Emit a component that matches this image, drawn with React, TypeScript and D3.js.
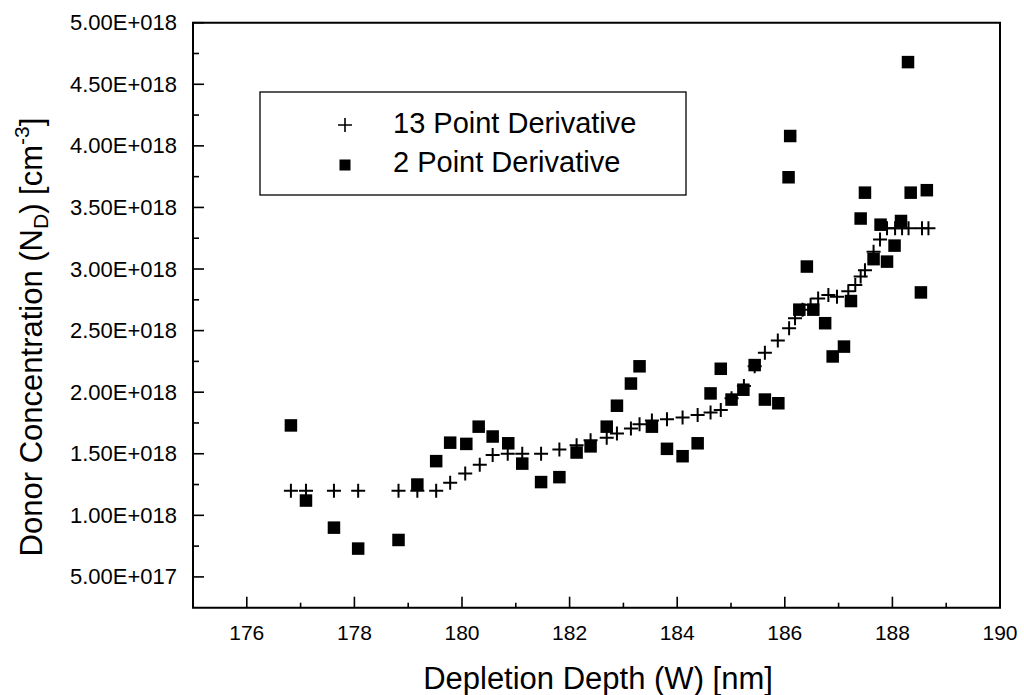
import React from "react";
import * as d3 from "d3";

const crossX = [176.82, 177.10, 177.62, 178.07, 178.82, 179.17, 179.52, 179.78, 180.06, 180.33, 180.57, 180.85, 181.12, 181.47, 181.81, 182.13, 182.39, 182.69, 182.88, 183.14, 183.30, 183.53, 183.81, 184.10, 184.38, 184.62, 184.81, 185.01, 185.24, 185.44, 185.63, 185.87, 186.08, 186.19, 186.33, 186.48, 186.62, 186.81, 186.97, 187.18, 187.31, 187.41, 187.49, 187.65, 187.77, 187.90, 188.05, 188.18, 188.30, 188.55, 188.67];
const crossY = [1.20, 1.20, 1.20, 1.20, 1.20, 1.20, 1.20, 1.265, 1.34, 1.41, 1.49, 1.50, 1.50, 1.50, 1.535, 1.57, 1.61, 1.63, 1.665, 1.705, 1.74, 1.77, 1.78, 1.795, 1.815, 1.835, 1.855, 1.95, 2.05, 2.21, 2.32, 2.42, 2.52, 2.60, 2.67, 2.71, 2.76, 2.79, 2.775, 2.82, 2.87, 2.94, 2.99, 3.14, 3.24, 3.33, 3.33, 3.33, 3.33, 3.33, 3.33];

const squareX = [176.82, 177.10, 177.62, 178.07, 178.82, 179.17, 179.52, 179.78, 180.08, 180.31, 180.57, 180.86, 181.12, 181.47, 181.81, 182.13, 182.39, 182.69, 182.88, 183.14, 183.30, 183.53, 183.81, 184.10, 184.38, 184.62, 184.81, 185.01, 185.23, 185.44, 185.63, 185.88, 186.07, 186.10, 186.27, 186.41, 186.53, 186.75, 186.89, 187.10, 187.23, 187.41, 187.49, 187.65, 187.78, 187.90, 188.04, 188.16, 188.29, 188.34, 188.53, 188.64];
const squareY = [1.73, 1.12, 0.90, 0.73, 0.80, 1.25, 1.44, 1.59, 1.58, 1.72, 1.64, 1.585, 1.42, 1.27, 1.31, 1.51, 1.56, 1.72, 1.89, 2.07, 2.21, 1.72, 1.54, 1.48, 1.585, 1.99, 2.19, 1.94, 2.02, 2.22, 1.94, 1.91, 3.745, 4.08, 2.67, 3.02, 2.67, 2.56, 2.29, 2.37, 2.74, 3.41, 3.62, 3.08, 3.36, 3.06, 3.19, 3.39, 4.68, 3.62, 2.81, 3.64];

const xTicks = [176, 178, 180, 182, 184, 186, 188, 190];
const xMinorTicks = [177, 179, 181, 183, 185, 187, 189];
const yTicks = [0.5, 1.0, 1.5, 2.0, 2.5, 3.0, 3.5, 4.0, 4.5, 5.0];
const yTickLabels = ["5.00E+017", "1.00E+018", "1.50E+018", "2.00E+018", "2.50E+018", "3.00E+018", "3.50E+018", "4.00E+018", "4.50E+018", "5.00E+018"];
const yMinorTicks = [0.75, 1.25, 1.75, 2.25, 2.75, 3.25, 3.75, 4.25, 4.75];
const legendLabels = ["13 Point Derivative", "2 Point Derivative"];

const FONT = "'Liberation Sans', Arial, Helvetica, sans-serif";

export default function App() {
  const left = 193, right = 1000, top = 22.7, bottom = 607.7;
  const x = d3.scaleLinear().domain([175, 190]).range([left, right]);
  const y = d3.scaleLinear().domain([0.25, 5.0]).range([bottom, top]);
  const cs = 7; // cross half-size
  const sq = 12.5; // square size

  return (
    <svg width={1024} height={695} style={{ position: "absolute", left: 0, top: 0, background: "#fff" }} fontFamily={FONT}>
      <rect x={0} y={0} width={1024} height={695} fill="#fff" />
      {/* frame */}
      <path d={`M${left},${top}H${right}V${bottom}H${left}Z`} fill="none" stroke="#000" strokeWidth={2} />
      {/* x ticks */}
      {xTicks.map((t) => (
        <g key={"xt" + t}>
          <line x1={x(t)} x2={x(t)} y1={bottom} y2={bottom - 11} stroke="#000" strokeWidth={1.6} />
          <text x={x(t)} y={640} textAnchor="middle" fontSize={21} fill="#000">{t}</text>
        </g>
      ))}
      {xMinorTicks.map((t) => (
        <line key={"xm" + t} x1={x(t)} x2={x(t)} y1={bottom} y2={bottom - 5} stroke="#000" strokeWidth={1.6} />
      ))}
      {/* y ticks */}
      {yTicks.map((t, i) => (
        <g key={"yt" + t}>
          <line x1={left} x2={left + 11} y1={y(t)} y2={y(t)} stroke="#000" strokeWidth={1.6} />
          <text x={177} y={y(t) + 7.5} textAnchor="end" fontSize={22} fill="#000">{yTickLabels[i]}</text>
        </g>
      ))}
      {yMinorTicks.map((t) => (
        <line key={"ym" + t} x1={left} x2={left + 6} y1={y(t)} y2={y(t)} stroke="#000" strokeWidth={1.6} />
      ))}
      {/* axis titles */}
      <text x={598} y={689} textAnchor="middle" fontSize={31} fill="#000">Depletion Depth (W) [nm]</text>
      <text transform="translate(42,337) rotate(-90)" textAnchor="middle" fontSize={31} fill="#000">
        Donor Concentration (N<tspan dy={6} fontSize={21}>D</tspan><tspan dy={-6}>) [cm</tspan><tspan dy={-13} fontSize={21}>-3</tspan><tspan dy={13}>]</tspan>
      </text>
      {/* 2 point squares */}
      {squareX.map((v, i) => (
        <rect key={"s" + i} x={x(v) - sq / 2} y={y(squareY[i]) - sq / 2} width={sq} height={sq} fill="#000" />
      ))}
      {/* 13 point crosses */}
      {crossX.map((v, i) => (
        <path key={"c" + i} d={`M${x(v) - cs},${y(crossY[i])}h${2 * cs}M${x(v)},${y(crossY[i]) - cs}v${2 * cs}`} stroke="#000" strokeWidth={2} fill="none" />
      ))}
      {/* legend */}
      <rect x={260} y={92} width={426} height={103} fill="#fff" stroke="#000" strokeWidth={1.3} />
      <path d={`M${345 - 7},125h14M345,${125 - 7}v14`} stroke="#000" strokeWidth={1.6} fill="none" />
      <text x={393} y={133} fontSize={29} fill="#000">{legendLabels[0]}</text>
      <rect x={345 - 5.5} y={165 - 5.5} width={11} height={11} fill="#000" />
      <text x={393} y={172} fontSize={29} fill="#000">{legendLabels[1]}</text>
    </svg>
  );
}
